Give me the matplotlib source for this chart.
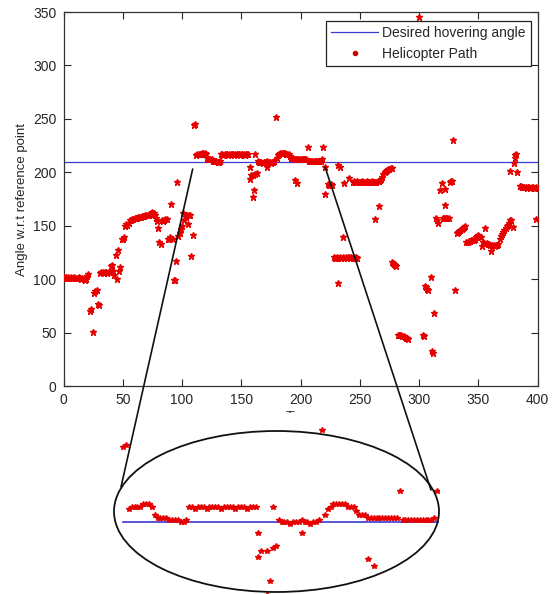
import matplotlib
matplotlib.use("Agg")
import matplotlib.pyplot as plt
from matplotlib.lines import Line2D
from matplotlib.patches import Ellipse, ConnectionPatch

plt.rcParams['font.family'] = ['Liberation Sans', 'DejaVu Sans']

# ---------------- data ----------------
time = [
    0, 1, 2, 3, 4, 5, 6, 7, 8, 9, 10, 11, 12, 13, 14, 15, 16, 17, 18, 19, 20, 21,
    22, 23, 25, 26, 27, 28, 29, 30,
    31, 32, 33, 34, 35, 36, 37, 38, 39,
    40, 41, 42, 43, 44, 45, 46, 47, 48, 49, 50, 51,
    52, 53, 54, 55, 56, 57, 58, 59, 60, 61, 62, 63, 64, 65, 66, 67, 68, 69, 70,
    71, 72, 73, 74, 75, 76, 77, 78, 79, 80, 81, 82, 83, 84, 85, 86, 87, 88, 89,
    90, 91, 92, 93, 94, 95, 96, 97, 98, 99, 100, 101, 102, 103, 104, 105, 106,
    107, 108, 109,
    110, 111,
    112, 113, 114, 115, 116, 117, 118, 119, 120,
    121, 122, 123, 124, 125, 126, 127, 128, 129, 130, 131, 132,
    133, 134, 135, 136, 137, 138, 139, 140, 141, 142, 143, 144, 145, 146, 147,
    148, 149, 150, 151, 152, 153, 154, 155, 156,
    157, 157, 158, 160, 160, 161, 162, 162, 163,
    164, 165, 166, 167, 168, 169, 170, 171, 172, 172, 173, 174, 175, 176, 177, 178,
    179, 180,
    181, 182, 183, 184, 185, 186, 187, 188, 189, 190, 191,
    192, 193, 194, 195, 195, 196, 197, 197, 198, 199, 200, 201, 202, 203, 204, 205,
    206, 207, 208, 209, 210, 211, 212, 213, 214, 215, 216, 217, 218,
    219, 221, 221,
    223, 224, 225, 226, 227,
    228, 229, 230, 231, 232, 233, 234, 236, 237, 238, 239, 240, 241, 242, 243,
    244, 245, 246, 247, 248,
    232, 236, 232, 233, 237, 241,
    244, 245, 246, 247, 248, 249, 250, 251, 252, 253, 254, 255, 256, 257, 258,
    259, 260, 261, 262, 263, 264, 265, 266,
    263, 266,
    267, 268, 269, 270, 271, 272, 273, 274, 275, 276, 277,
    277, 278, 279, 280, 281,
    282, 283, 284, 285, 286, 287, 288, 289, 290, 291,
    300,
    303, 304, 305, 306, 307, 308, 310, 311, 312, 313,
    314, 315, 316, 318, 319, 320, 321, 322, 322, 322, 323, 324, 325,
    326, 327, 328, 329, 330,
    332, 333, 334, 335, 336, 337, 338, 339,
    340, 341, 342, 343, 344, 345, 346, 347, 348, 349, 350, 351, 352, 353, 354,
    355, 356, 357, 358, 359, 360, 361, 362, 363, 364, 365, 366, 367,
    368, 369, 370, 371, 372, 373, 374, 375, 376, 377, 378, 379,
    377, 380, 381, 381, 382, 383,
    385, 386, 387, 388, 389, 390, 391, 392, 393, 394, 395, 396, 397, 398, 399,
    400, 399,
]

angle = [
    102, 101, 102, 101, 102, 101, 102, 101, 101, 102, 101, 101, 101, 102, 101, 100, 101, 100, 99, 100, 103, 105,
    70, 72, 51, 87, 89, 90, 77, 76,
    106, 107, 107, 106, 107, 107, 106, 107, 108,
    112, 113, 108, 104, 123, 100, 127, 108, 111, 138, 138, 139,
    150, 152, 151, 153, 155, 155, 156, 156, 157, 157, 157, 158, 158, 158, 159, 159, 159, 160, 160,
    160, 160, 161, 162, 163, 162, 160, 157, 154, 148, 135, 133, 155, 154, 155, 156, 156, 138, 138,
    139, 170, 138, 99, 99, 117, 191, 140, 143, 147, 150, 162, 155, 158, 160, 152, 160,
    160, 122, 141,
    244, 245,
    216, 217, 217, 217, 217, 218, 218, 218, 217,
    213, 212, 212, 212, 212, 211, 211, 211, 211, 210, 210, 211,
    217, 217, 216, 217, 217, 217, 216, 217, 217, 217, 217, 216, 217, 217, 217,
    217, 216, 217, 217, 217, 216, 217, 217, 217,
    205, 194, 197, 177, 197, 183, 198, 217, 199,
    211, 210, 210, 210, 209, 210, 210, 210, 211, 205, 210, 210, 209, 210, 210, 211,
    252, 213,
    216, 217, 218, 218, 218, 218, 218, 217, 217, 217, 215,
    213, 213, 213, 212, 193, 212, 190, 212, 212, 212, 212, 212, 212, 212, 212, 212,
    224, 211, 211, 211, 211, 211, 211, 211, 211, 211, 211, 211, 212,
    224, 205, 180,
    189, 188, 188, 189, 188,
    121, 120, 120, 121, 120, 121, 120, 121, 120, 121, 120, 121, 121, 120, 121,
    120, 121, 120, 121, 120,
    96, 139, 207, 205, 190, 195,
    191, 192, 191, 191, 192, 191, 191, 191, 192, 191, 191, 191, 192, 191, 191,
    191, 192, 191, 191, 191, 191, 192, 192,
    156, 168,
    193, 194, 196, 198, 200, 201, 202, 203, 203, 204, 204,
    116, 115, 114, 113, 112,
    48, 48, 48, 48, 47, 47, 46, 45, 45, 44,
    345,
    48, 47, 94, 93, 91, 90, 102, 33, 31, 68,
    157, 155, 153, 183, 190, 157, 157, 157, 169, 184, 157, 157, 157,
    191, 192, 192, 230, 90,
    143, 144, 145, 146, 147, 148, 149, 150,
    135, 135, 136, 136, 137, 137, 137, 138, 139, 140, 141, 140, 139, 131, 135,
    134, 148, 134, 133, 133, 132, 126, 132, 132, 131, 132, 132, 133,
    138, 140, 142, 144, 146, 148, 150, 151, 153, 155, 155, 149,
    201, 209, 213, 216, 217, 200,
    187, 187, 186, 186, 186, 186, 185, 186, 186, 185, 186, 186, 185, 185, 186,
    185, 156,
]

desired_angle = 210
desired_span = [0, 400]
zoom_span = [110, 220]
x_ticks = [0, 50, 100, 150, 200, 250, 300, 350, 400]
y_ticks = [0, 50, 100, 150, 200, 250, 300, 350]

# ---------------- figure ----------------
W, H = 557, 594
fig = plt.figure(figsize=(W / 100, H / 100), dpi=100)

text_col = '#262626'
red = '#e60000'
blue = '#3a3ad0'

ax = fig.add_axes([63.5 / W, 1 - 386 / H, 474 / W, 374 / H])
ax.plot(desired_span, [desired_angle, desired_angle], color=blue, lw=0.9, zorder=2)
ax.plot(time, angle, ls='none', marker='*', ms=4.5, color=red, mec=red, zorder=3)
ax.set_xlim(0, 400)
ax.set_ylim(0, 350)
ax.set_xticks(x_ticks)
ax.set_yticks(y_ticks)
ax.tick_params(direction='in', top=True, right=True, length=5, width=0.8,
               labelsize=10, colors=text_col, pad=5)
for s in ax.spines.values():
    s.set_color('#333333')
    s.set_linewidth(0.9)
ax.set_xlabel('Time', fontsize=9.5, color=text_col, labelpad=3)
ax.set_ylabel('Angle w.r.t reference point', fontsize=9.5, color=text_col, labelpad=4)

handles = [Line2D([], [], color=blue, lw=0.9),
           Line2D([], [], ls='none', marker='.', ms=6, color='#cc0000')]
leg = ax.legend(handles, ['Desired hovering angle', 'Helicopter Path'],
                loc='upper right', bbox_to_anchor=(0.9863, 0.9767),
                borderaxespad=0, fancybox=False, framealpha=1,
                edgecolor='#222222', fontsize=10, handlelength=3.4,
                handletextpad=0.25, labelspacing=0.45, borderpad=0.4)
leg.get_frame().set_linewidth(0.9)
leg.set_zorder(5)
for t in leg.get_texts():
    t.set_color(text_col)

# ---------------- zoomed inset ----------------
px_per_t = 2.882
px_per_v = 2.2
t0_px, v0_py = 123.0, 522.0
in_left, in_right, in_top, in_bottom = 110.0, 439.5, 413.0, 594.0
axin = fig.add_axes([in_left / W, 1 - in_bottom / H,
                     (in_right - in_left) / W, (in_bottom - in_top) / H])
axin.set_facecolor('white')
axin.plot(zoom_span, [desired_angle, desired_angle], color=blue, lw=1.2, zorder=2)
axin.plot(time, angle, ls='none', marker='*', ms=4, color=red, mec=red, zorder=3)
axin.set_xlim(zoom_span[0] + (in_left - t0_px) / px_per_t,
              zoom_span[0] + (in_right - t0_px) / px_per_t)
axin.set_ylim(desired_angle - (in_bottom - v0_py) / px_per_v,
              desired_angle + (v0_py - in_top) / px_per_v)
axin.set_xticks([])
axin.set_yticks([])
for s in axin.spines.values():
    s.set_visible(False)

ell = Ellipse((276.5 / W, 1 - 511.5 / H), 325 / W, 161 / H,
              transform=fig.transFigure, fill=False, ec='#111111', lw=1.3, zorder=10)
fig.add_artist(ell)

for xyA, xyB in [((109, 203), (121 / W, 1 - 487 / H)),
                 ((220.7, 205), (431 / W, 1 - 490 / H))]:
    cp = ConnectionPatch(xyA=xyA, coordsA=ax.transData,
                         xyB=xyB, coordsB=fig.transFigure,
                         color='#111111', lw=1.2, zorder=10)
    fig.add_artist(cp)

fig.savefig('out.png', dpi=100)
